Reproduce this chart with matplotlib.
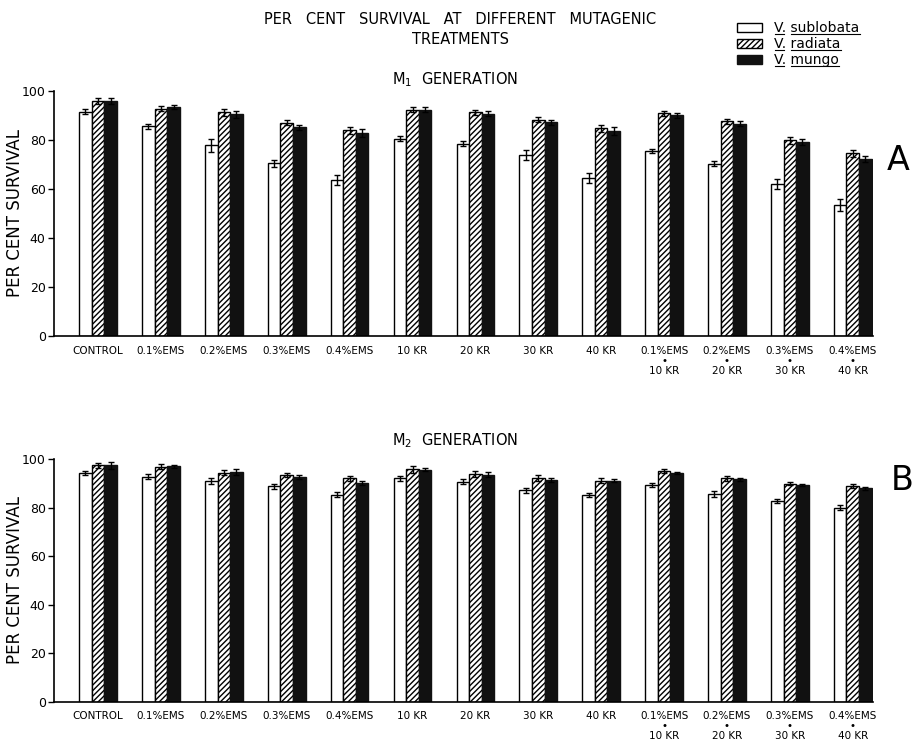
import matplotlib.pyplot as plt
from matplotlib.patches import Patch
from matplotlib.lines import Line2D
import numpy as np

# treatments (x axis), same for both generations
treatments = ['CONTROL', '0.1%EMS', '0.2%EMS', '0.3%EMS', '0.4%EMS',
              '10 KR', '20 KR', '30 KR', '40 KR',
              '0.1%EMS\n•\n10 KR', '0.2%EMS\n•\n20 KR',
              '0.3%EMS\n•\n30 KR', '0.4%EMS\n•\n40 KR']
species = ['sublobata', 'radiata', 'mungo']

# M1 generation - per cent survival
m1_sublobata = [91.5, 85.5, 77.7, 70.4, 63.6, 80.4, 78.4, 73.8, 64.5, 75.4, 70.3, 61.8, 53.4]
m1_radiata = [95.7, 92.6, 91.2, 86.9, 83.8, 92.3, 91.2, 88.1, 84.7, 90.8, 87.6, 79.8, 74.4]
m1_mungo = [95.7, 93.5, 90.3, 85.0, 82.7, 92.3, 90.6, 87.2, 83.5, 89.9, 86.5, 78.9, 72.3]
m1_sublobata_err = [1.0, 1.0, 2.5, 1.5, 2.0, 1.0, 1.0, 2.0, 2.0, 1.0, 1.0, 2.0, 2.5]
m1_radiata_err = [1.3, 1.0, 1.5, 1.0, 1.5, 1.0, 1.0, 1.0, 1.5, 1.0, 1.0, 1.5, 1.5]
m1_mungo_err = [1.3, 0.8, 1.5, 1.2, 1.5, 1.0, 1.0, 1.0, 1.5, 1.0, 1.0, 1.2, 1.2]

# M2 generation - per cent survival
m2_sublobata = [94.4, 92.8, 90.9, 88.7, 85.3, 92.0, 90.7, 87.2, 85.3, 89.3, 85.6, 82.6, 79.9]
m2_radiata = [97.4, 96.9, 94.4, 93.6, 92.1, 95.8, 93.7, 92.1, 91.0, 95.1, 92.1, 89.9, 89.0]
m2_mungo = [97.4, 97.0, 94.6, 92.7, 90.3, 95.6, 93.6, 91.3, 91.0, 94.2, 91.7, 89.3, 87.9]
m2_sublobata_err = [0.8, 1.2, 1.2, 1.0, 1.0, 1.2, 1.0, 1.0, 0.8, 1.0, 1.2, 0.8, 1.0]
m2_radiata_err = [1.0, 1.2, 1.0, 0.8, 1.0, 1.5, 1.2, 1.2, 1.0, 0.8, 1.0, 0.8, 0.8]
m2_mungo_err = [1.5, 0.6, 1.2, 0.8, 0.8, 0.6, 1.2, 0.8, 0.6, 0.5, 0.6, 0.6, 0.6]

plt.rcParams['hatch.linewidth'] = 1.0
plt.rcParams['font.family'] = 'DejaVu Sans'

fig = plt.figure(figsize=(9.17, 7.53), dpi=100)
ax1 = fig.add_axes([0.0589, 0.5538, 0.893, 0.3258])
ax2 = fig.add_axes([0.0589, 0.0681, 0.893, 0.3223])

x = np.arange(len(treatments))
w = 0.2


def draw_panel(ax, sub, rad, mun, sub_e, rad_e, mun_e):
    ekw = dict(ecolor='black', elinewidth=1, capsize=2.5, capthick=1)
    ax.bar(x - w, sub, w, color='white', edgecolor='black', linewidth=1,
           yerr=sub_e, error_kw=ekw)
    ax.bar(x, rad, w, color='white', edgecolor='black', linewidth=1,
           hatch='//////', yerr=rad_e, error_kw=ekw)
    ax.bar(x + w, mun, w, color='#111111', edgecolor='#111111', linewidth=1,
           yerr=mun_e, error_kw=ekw)
    ax.set_xlim(-0.70, 12.32)
    ax.set_ylim(0, 100)
    ax.set_yticks([0, 20, 40, 60, 80, 100])
    ax.tick_params(axis='y', direction='out', length=4, width=1, labelsize=9, pad=2)
    ax.set_xticks(x)
    ax.set_xticklabels(treatments, fontsize=7.5, linespacing=1.0)
    ax.tick_params(axis='x', length=0, pad=7)
    for s in ['top', 'right']:
        ax.spines[s].set_visible(False)
    ax.spines['left'].set_linewidth(1.2)
    ax.spines['bottom'].set_linewidth(1.2)
    ax.set_ylabel('PER CENT SURVIVAL', fontsize=12)
    ax.yaxis.set_label_coords(-0.037, 0.5)


draw_panel(ax1, m1_sublobata, m1_radiata, m1_mungo,
           m1_sublobata_err, m1_radiata_err, m1_mungo_err)
draw_panel(ax2, m2_sublobata, m2_radiata, m2_mungo,
           m2_sublobata_err, m2_radiata_err, m2_mungo_err)

# titles
fig.text(460 / 917, 1 - 19 / 753, 'PER   CENT   SURVIVAL   AT   DIFFERENT   MUTAGENIC',
         ha='center', va='center', fontsize=10.5)
fig.text(460 / 917, 1 - 40 / 753, 'TREATMENTS', ha='center', va='center', fontsize=10.5)
fig.text(455 / 917, 1 - 80 / 753, r'M$_1$  GENERATION', ha='center', va='center', fontsize=10.5)
fig.text(455 / 917, 1 - 441 / 753, r'M$_2$  GENERATION', ha='center', va='center', fontsize=10.5)
fig.text(898 / 917, 1 - 161 / 753, 'A', ha='center', va='center', fontsize=24)
fig.text(902 / 917, 1 - 481 / 753, 'B', ha='center', va='center', fontsize=24)

# legend
handles = [Patch(facecolor='white', edgecolor='black', linewidth=1),
           Patch(facecolor='white', edgecolor='black', linewidth=1, hatch='//////'),
           Patch(facecolor='#111111', edgecolor='#111111')]
labels = ['V. ' + s for s in species]
leg = fig.legend(handles, labels, loc='upper left', bbox_to_anchor=(737 / 917, 1 - 21 / 753),
                 frameon=False, fontsize=10, handlelength=1.8, handleheight=0.6,
                 labelspacing=0.15, handletextpad=0.9, borderaxespad=0, borderpad=0)

# underline the genus letter and the species name separately
fig.canvas.draw()
r = fig.canvas.get_renderer()
for t, s in zip(leg.get_texts(), species):
    bb = t.get_window_extent(r)
    probe = fig.text(0, 0, 'V', fontsize=10)
    wv = probe.get_window_extent(r).width
    probe.set_text('V. ')
    wvs = probe.get_window_extent(r).width
    probe.remove()
    yline = bb.y0 + 1.5
    for x0, x1 in [(bb.x0, bb.x0 + wv), (bb.x0 + wvs, bb.x1)]:
        fig.add_artist(Line2D([x0 / fig.bbox.width, x1 / fig.bbox.width],
                              [yline / fig.bbox.height] * 2,
                              transform=fig.transFigure, color='black', lw=0.8))

fig.savefig('out.png', dpi=100)
